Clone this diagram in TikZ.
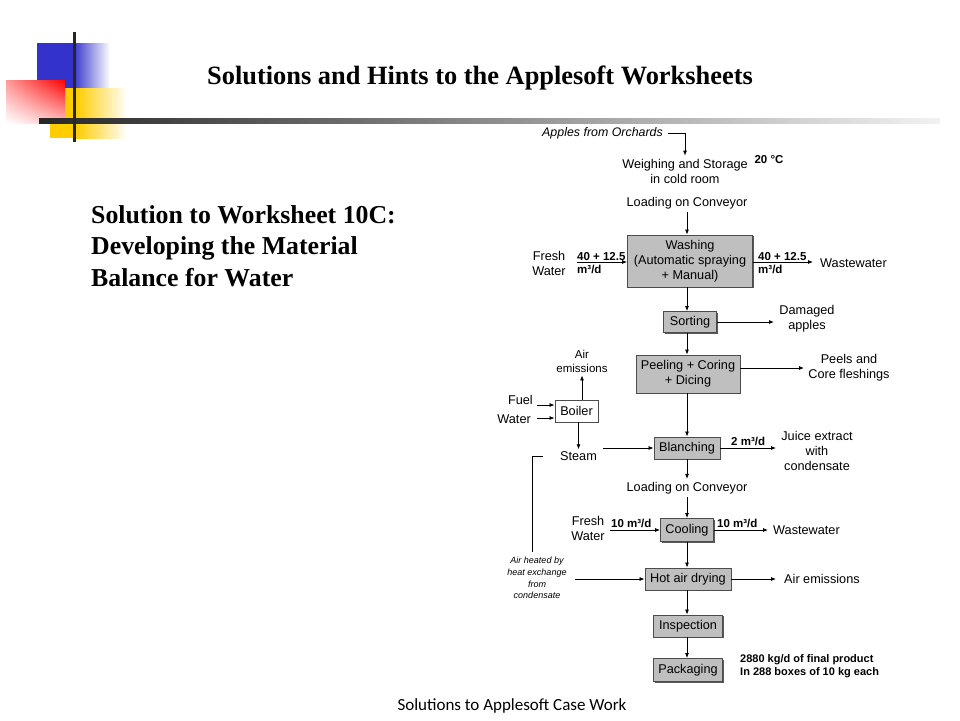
\documentclass[tikz,border=0pt]{standalone}
\usepackage{fontspec}
\setmainfont{Liberation Serif}
\setsansfont{Liberation Sans}
\newfontfamily\arial{Liberation Sans}
\newfontfamily\footfont{Carlito}
\usetikzlibrary{arrows.meta,shadows,shadings}
\definecolor{decoblue}{RGB}{51,51,204}
\definecolor{decoyellow}{RGB}{255,204,0}
\definecolor{decored}{RGB}{255,0,0}
\begin{document}
\begin{tikzpicture}[x=1pt,y=-1pt,
  txt/.style={font=\arial\fontsize{12.7}{15}\selectfont, align=center, inner sep=0pt},
  itxt/.style={font=\arial\itshape\fontsize{12.4}{15}\selectfont, align=center, inner sep=0pt},
  smallit/.style={font=\arial\itshape\fontsize{9}{11.7}\selectfont, align=center, inner sep=0pt},
  lab/.style={font=\arial\bfseries\fontsize{11.5}{13.5}\selectfont, inner sep=0pt, align=left},
  pbox/.style={draw=black!70, line width=0.9pt, fill=black!25, inner sep=0pt, align=center,
    font=\arial\fontsize{12.7}{15}\selectfont,
    drop shadow={shadow xshift=1.2pt, shadow yshift=-1.2pt, fill=black!65, opacity=1}},
  wbox/.style={pbox, fill=white},
  arr/.style={-{Latex[length=5pt,width=4pt]}, line width=0.8pt},
  ln/.style={line width=0.8pt},
  ttl/.style={font=\bfseries\fontsize{25.8}{31.5}\selectfont, inner sep=0pt, align=left}
]
\useasboundingbox (0,0) rectangle (960,720);
\fill[white] (0,0) rectangle (960,720);

% decoration
\fill[decoblue] (37,43) rectangle (73,88);
\shade[left color=decoblue, right color=white] (73,43) rectangle (110,88);
\fill[decoyellow] (50,88) rectangle (76,138);
\shade[left color=decoyellow, right color=white] (76,88) rectangle (127,138);
\shade[upper left=decored!40, upper right=decored, lower left=white, lower right=decored!25] (6,80) rectangle (65,123);
\shade[left color=black!85, right color=black!5] (39,118.5) rectangle (940,123.5);
\fill[black!85] (72.5,32) rectangle (75.5,142);

% titles
\node[font=\bfseries\fontsize{26.4}{30}\selectfont, inner sep=0pt] (title) at (480,78) {Solutions and Hints to the Applesoft Worksheets};
\node[ttl, anchor=west] (sub) at (91,246) {Solution to Worksheet 10C:\\Developing the Material\\Balance for Water};
\node[font=\footfont\fontsize{17}{20}\selectfont, inner sep=0pt] (foot) at (512,706) {Solutions to Applesoft Case Work};

% flowchart
\node[itxt, anchor=east] (apples) at (663,133) {Apples from Orchards};
\node[txt] (weigh) at (685,171) {Weighing and Storage\\in cold room};
\draw[arr, shorten >=3pt] ([xshift=5pt]apples.east) -| (weigh.north);
\node[lab] (temp) at (769,160) {20 °C};
\node[txt] (load1) at (687,203) {Loading on Conveyor};

\node[pbox, minimum width=125, minimum height=52] (wash) at (690,261) {Washing\\(Automatic spraying\\+ Manual)};
\draw[arr, shorten <=3pt] (load1.south -| 687,0) -- (wash.north -| 687,0);

\node[txt] (fw1) at (549,263) {Fresh\\Water};
\coordinate (fw1s) at (577,262);
\draw[arr] (fw1s) -- (wash.west |- fw1s);
\node[lab, anchor=south west] (l1a) at (577,261) {40 + 12.5};
\node[lab, anchor=north west] (l1b) at (577,265) {m³/d};
\coordinate (ww1e) at (813,262);
\draw[arr] (wash.east |- ww1e) -- (ww1e);
\node[lab, anchor=south west] (l2a) at (758,261) {40 + 12.5};
\node[lab, anchor=north west] (l2b) at (758,265) {m³/d};
\node[txt, anchor=west] (ww1) at (820,263) {Wastewater};

\node[pbox, minimum width=53, minimum height=21] (sort) at (690,322) {Sorting};
\draw[arr] (wash.south -| 687,0) -- (sort.north -| 687,0);
\coordinate (dame) at (774,322);
\draw[arr] (sort.east) -- (dame);
\node[txt] (dam) at (807,319) {Damaged\\apples};

\node[pbox, minimum width=104, minimum height=38] (peel) at (688,374) {Peeling + Coring\\+ Dicing};
\draw[arr] (sort.south -| 687,0) -- (peel.north -| 687,0);
\coordinate (peele) at (804,368);
\draw[arr] (peel.east |- peele) -- (peele);
\node[txt] (peels) at (849,368) {Peels and\\Core fleshings};

\node[pbox, minimum width=66, minimum height=22] (blanch) at (687,448) {Blanching};
\draw[arr] (peel.south -| 687,0) -- (blanch.north -| 687,0);
\coordinate (juicee) at (776,448);
\draw[arr] (blanch.east) -- (juicee);
\node[lab, anchor=south west] (l3) at (731,446) {2 m³/d};
\node[txt] (juice) at (817,451) {Juice extract\\with\\condensate};

\node[wbox, minimum width=43, minimum height=22] (boiler) at (576.5,411) {Boiler};
\node[txt, font=\arial\fontsize{11.5}{14}\selectfont] (airem) at (582,361) {Air\\emissions};
\draw[arr] (boiler.north -| airem) -- ([yshift=-3pt]airem.south);
\node[txt, anchor=east] (fuel) at (533,400) {Fuel};
\coordinate (fuels) at (537,405);
\draw[arr] (fuels) -- (boiler.west |- fuels);
\node[txt, anchor=east] (water) at (531,419) {Water};
\coordinate (waters) at (537,418);
\draw[arr] (waters) -- (boiler.west |- waters);
\node[txt] (steam) at (578.5,456) {Steam};
\draw[arr] (boiler.south -| steam) -- ([yshift=2pt]steam.north);
\coordinate (steams) at (603,448);
\draw[arr] (steams) -- (steams -| blanch.west);

\coordinate (brT) at (543,456);
\coordinate (brB) at (532,552);
\draw[ln] (brT) -| (brB);
\node[smallit] (airh) at (537,578) {Air heated by\\heat exchange\\from\\condensate};
\coordinate (airhs) at (575,579);

\node[txt] (load2) at (687,488) {Loading on Conveyor};
\draw[arr] (blanch.south -| 687,0) -- ([yshift=3pt]load2.north -| 687,0);

\node[pbox, minimum width=53, minimum height=23] (cool) at (687,530) {Cooling};
\draw[arr, shorten <=3pt] (load2.south -| 687,0) -- (cool.north -| 687,0);
\node[txt] (fw2) at (588,528) {Fresh\\Water};
\coordinate (fw2s) at (610,530);
\draw[arr] (fw2s) -- (cool.west |- fw2s);
\node[lab, anchor=south west] (l4) at (611,528) {10 m³/d};
\coordinate (ww2e) at (768,530);
\draw[arr] (cool.east |- ww2e) -- (ww2e);
\node[lab, anchor=south west] (l5) at (717,528) {10 m³/d};
\node[txt, anchor=west] (ww2) at (773,530) {Wastewater};

\node[pbox, minimum width=86, minimum height=22] (hot) at (688,579) {Hot air drying};
\draw[arr] (cool.south -| 687,0) -- (hot.north -| 687,0);
\draw[arr] (airhs) -- (hot.west |- airhs);
\coordinate (hote) at (776,579);
\draw[arr] (hot.east |- hote) -- (hote);
\node[txt, anchor=west] (airem2) at (784,579) {Air emissions};

\node[pbox, minimum width=69, minimum height=22] (insp) at (688,626) {Inspection};
\draw[arr] (hot.south -| 687,0) -- (insp.north -| 687,0);
\node[pbox, minimum width=69, minimum height=23] (pack) at (688,670) {Packaging};
\draw[arr] (insp.south -| 687,0) -- (pack.north -| 687,0);
\node[lab, anchor=west, font=\arial\bfseries\fontsize{11}{13}\selectfont] (final) at (740,666) {2880 kg/d of final product\\In 288 boxes of 10 kg each};
\end{tikzpicture}
\end{document}
